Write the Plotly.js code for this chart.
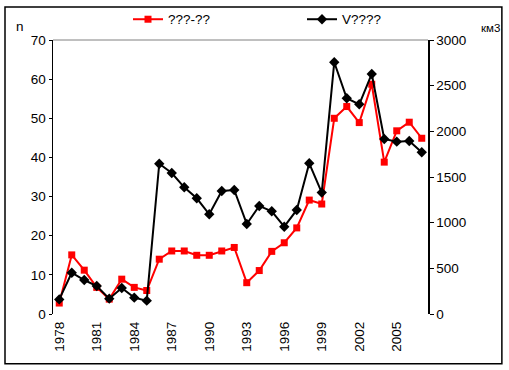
<!DOCTYPE html>
<html><head><meta charset="utf-8">
<script src="https://cdn.plot.ly/plotly-3.0.1.min.js"></script>
<style>html,body{margin:0;padding:0;background:#fff}#c{width:509px;height:370px}</style>
</head><body><div id="c"></div>
<script>
const years = [1978,1979,1980,1981,1982,1983,1984,1985,1986,1987,1988,1989,1990,1991,1992,1993,1994,1995,1996,1997,1998,1999,2000,2001,2002,2003,2004,2005,2006,2007];
const seriesN = [2.8,15.1,11.2,6.8,3.8,8.9,6.8,6.0,14.0,16.1,16.1,15.0,15.0,16.1,17.0,8.0,11.1,16.0,18.2,22.0,29.1,28.1,50.0,53.0,48.9,58.7,38.8,46.8,49.0,44.9];
const seriesV = [160,452,372,306,168,285,179,146,1645,1544,1387,1267,1092,1347,1358,986,1183,1125,956,1139,1650,1329,2756,2362,2296,2628,1916,1887,1894,1771];
const labelYears = [1978,1981,1984,1987,1990,1993,1996,1999,2002,2005];
const legendNames = ['???-??','V????'];
const yLeftTicks = [0,10,20,30,40,50,60,70];
const yRightTicks = [0,500,1000,1500,2000,2500,3000];

const boundaries = years.map(y => y - 0.5).concat([years[years.length-1] + 0.5]);
const xr = [years[0] - 0.5, years[years.length-1] + 0.5];
const font = {family: 'Liberation Sans, Arial, sans-serif', size: 13.5, color: '#000'};

const traces = [
  {x: years, y: seriesN, name: legendNames[0], type: 'scatter', mode: 'lines+markers', xaxis: 'x', yaxis: 'y',
   line: {color: '#ff0000', width: 2}, marker: {symbol: 'square', size: 7, color: '#ff0000'}},
  {x: years, y: seriesV, name: legendNames[1], type: 'scatter', mode: 'lines+markers', xaxis: 'x', yaxis: 'y2',
   line: {color: '#000000', width: 2}, marker: {symbol: 'diamond', size: 8, color: '#000000'}}
];

const layout = {
  width: 509, height: 370,
  margin: {l: 53, r: 81, t: 40, b: 56, autoexpand: false},
  paper_bgcolor: '#fff', plot_bgcolor: '#fff',
  font: font,
  showlegend: true,
  legend: {orientation: 'h', x: (128-53)/375, xanchor: 'left', y: 1.075, yanchor: 'middle', font: font, itemwidth: 30,
           entrywidth: 129, entrywidthmode: 'pixels', bgcolor: 'rgba(0,0,0,0)'},
  xaxis: {range: xr, tickmode: 'array', tickvals: labelYears, ticktext: labelYears.map(String), tickangle: -90,
          ticks: '', showgrid: false, zeroline: false, showline: false, tickfont: font, ticklabelstandoff: 4, automargin: false},
  xaxis2: {overlaying: 'x', anchor: 'y', side: 'bottom', range: xr, tickmode: 'array', tickvals: boundaries,
           ticks: 'outside', ticklen: 3, tickcolor: '#000', tickwidth: 1, showticklabels: false, showgrid: false,
           zeroline: false, showline: true, linecolor: '#000', linewidth: 1.5, automargin: false},
  xaxis3: {overlaying: 'x', anchor: 'y', side: 'bottom', range: xr, tickmode: 'array', tickvals: boundaries,
           ticks: 'inside', ticklen: 3, tickcolor: '#000', tickwidth: 1, showticklabels: false, showgrid: false,
           zeroline: false, showline: false, automargin: false},
  yaxis: {range: [0, 70], tickmode: 'array', tickvals: yLeftTicks, ticks: 'outside', ticklen: 3, tickcolor: '#000',
          showgrid: false, zeroline: false, showline: true, linecolor: '#000', linewidth: 1.5, tickfont: font, automargin: false},
  yaxis3: {overlaying: 'y', anchor: 'x', side: 'left', range: [0, 70], tickmode: 'array', tickvals: yLeftTicks,
           ticks: 'inside', ticklen: 3, tickcolor: '#000', showticklabels: false, showgrid: false, zeroline: false, showline: false, automargin: false},
  yaxis2: {overlaying: 'y', anchor: 'x', side: 'right', range: [0, 3000], tickmode: 'array', tickvals: yRightTicks,
           ticks: 'outside', ticklen: 4, tickcolor: '#000', showgrid: false, zeroline: false, showline: true,
           linecolor: '#000', linewidth: 1.5, tickfont: font, automargin: false},
  yaxis4: {overlaying: 'y', anchor: 'x', side: 'right', range: [0, 3000], tickmode: 'array', tickvals: yRightTicks,
           ticks: 'inside', ticklen: 4, tickcolor: '#000', showticklabels: false, showgrid: false, zeroline: false, showline: false, automargin: false},
  shapes: [
    {type: 'line', xref: 'paper', yref: 'paper', x0: 0, x1: 1, y0: 1, y1: 1, line: {color: '#808080', width: 1}},
    {type: 'rect', xref: 'paper', yref: 'paper', x0: -0.128, x1: 1.197, y0: -0.182, y1: 1.12, line: {color: '#000', width: 1.5}}
  ],
  annotations: [
    {text: 'n', xref: 'paper', yref: 'paper', x: (20-53)/375, y: (314-27)/274, showarrow: false, font: font, xanchor: 'center', yanchor: 'middle'},
    {text: 'км3', xref: 'paper', yref: 'paper', x: (490-53)/375, y: (314-28)/274, showarrow: false, font: {family: font.family, size: 11.5, color: '#000'}, xanchor: 'center', yanchor: 'middle'}
  ]
};

Plotly.newPlot('c', traces, layout, {staticPlot: true, displayModeBar: false});
</script>
</body></html>
